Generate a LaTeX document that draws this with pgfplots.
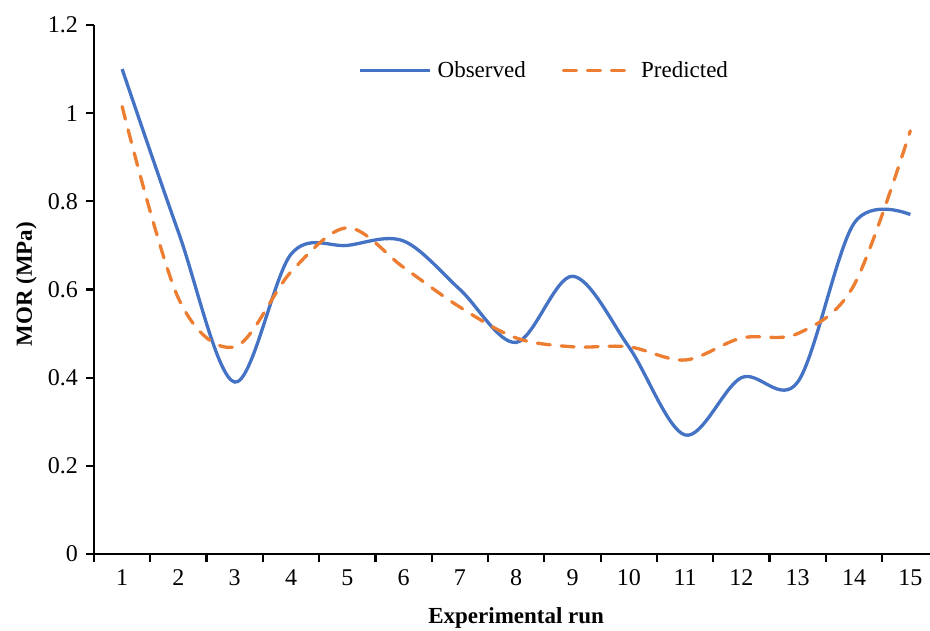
\documentclass[border=0pt]{standalone}
\usepackage{fontspec}
\setmainfont{Liberation Serif}
\usepackage{pgfplots}
\pgfplotsset{compat=1.18}
\definecolor{obsblue}{HTML}{4472C4}
\definecolor{predorange}{HTML}{ED7D31}
\begin{document}
\begin{tikzpicture}
\useasboundingbox (0,0) rectangle (930pt,630pt);
\begin{axis}[
  at={(94pt,76pt)}, anchor=south west,
  scale only axis,
  width=836pt, height=529pt,
  xmin=0.5, xmax=15.35,
  ymin=0, ymax=1.2,
  axis x line*=bottom, axis y line*=left,
  axis line style={line width=2.2pt, black, -},
  xtick={0.5,1.5,...,14.5},
  xticklabels={},
  extra x ticks={1,2,...,15},
  extra x tick labels={1,2,3,4,5,6,7,8,9,10,11,12,13,14,15},
  extra x tick style={major tick length=0pt, xticklabel style={yshift=-12pt}},
  ytick={0,0.2,...,1.2},
  yticklabels={0,0.2,0.4,0.6,0.8,1,1.2},
  tick style={line width=2.2pt, black},
  tick align=outside,
  major tick length=7.5pt,
  tick label style={font=\fontsize{24}{26}\selectfont},
  /pgf/number format/assume math mode=true,
  yticklabel style={xshift=-5pt},
  xlabel={\textbf{Experimental run}},
  ylabel={\textbf{MOR (MPa)}},
  label style={font=\fontsize{23}{25}\selectfont},
  xlabel style={at={(axis description cs:0.505,-0.12)}, anchor=center},
  ylabel style={at={(axis description cs:-0.081,0.51)}, anchor=center, rotate=0},
  legend columns=-1,
  legend style={at={(axis description cs:0.316,0.915)}, anchor=west, draw=none, fill=none, inner sep=0pt,
    font=\fontsize{23}{25}\selectfont,
    nodes={inner sep=0pt, anchor=base west},
    /tikz/every odd column/.append style={column sep=6pt},
    /tikz/every even column/.append style={column sep=36pt}},
  legend image code/.code={\draw[#1] (0pt,7pt) -- (70pt,7pt);},
  clip=false,
]
\addplot[obsblue, line width=3.3pt, smooth, tension=0.55] coordinates {
(1,1.10) (2,0.73) (3,0.39) (4,0.68) (5,0.70) (6,0.71) (7,0.60) (8,0.48)
(9,0.63) (10,0.47) (11,0.27) (12,0.40) (13,0.39) (14,0.75) (15,0.77)};
\addlegendentry{Observed}
\addplot[predorange, line width=3.3pt, smooth, tension=0.55, line cap=round, dash pattern=on 13pt off 11pt] coordinates {
(1,1.015) (2,0.58) (3,0.47) (4,0.64) (5,0.74) (6,0.65) (7,0.56) (8,0.49)
(9,0.47) (10,0.47) (11,0.44) (12,0.49) (13,0.50) (14,0.61) (15,0.96)};
\addlegendentry{Predicted}
\end{axis}
\end{tikzpicture}
\end{document}
